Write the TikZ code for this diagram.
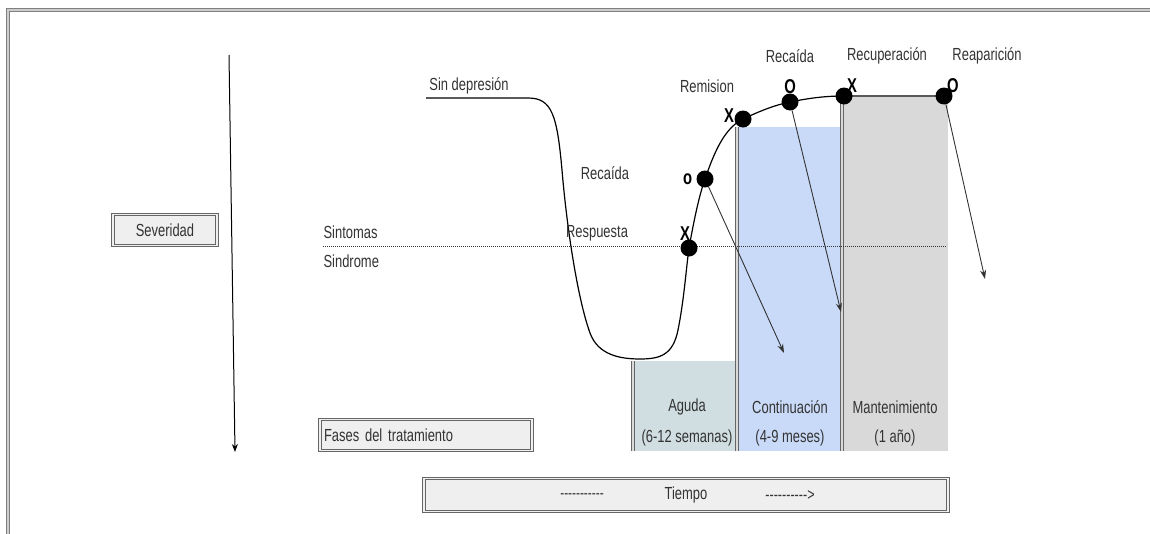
\documentclass[tikz,border=0pt]{standalone}
\usepackage{fontspec}
\setmainfont{Liberation Sans}[FakeStretch=0.74]
\usetikzlibrary{arrows.meta}

\definecolor{txtgray}{HTML}{333333}
\definecolor{boxline}{HTML}{666666}
\definecolor{boxfill}{HTML}{EFEFEF}
\definecolor{agudafill}{HTML}{D0DEE1}
\definecolor{contfill}{HTML}{C9DAF8}
\definecolor{mantfill}{HTML}{D9D9D9}

\begin{document}
\begin{tikzpicture}[x=1pt, y=-1pt,
	every node/.style={font=\fontsize{17.5}{20}\selectfont, text=txtgray},
	dot/.style={circle, fill=black, inner sep=0pt, minimum size=17pt},
	xo/.style={font=\fontsize{20}{22}\selectfont\bfseries, text=black, inner sep=1pt},
	dblbox/.style={draw=boxline, double=boxfill, double distance=1.4pt, line width=1pt, fill=boxfill, minimum height=31pt, inner sep=0pt},
	phase/.style={draw=none, anchor=north west, inner sep=0pt},
	phaseedge/.style={draw=boxline, double=gray!30, double distance=1.4pt, line width=1pt},
	thinarrow/.style={draw=txtgray, line width=0.9pt, -{Stealth[length=9pt,width=6pt]}}]
	\useasboundingbox (0,0) rectangle (1150,533);
	% frame
	\draw[draw=gray, double=gray!40, double distance=1.4pt, line width=1.1pt] (8,540) -- (8,10) -- (1160,10);

	% severity axis
	\coordinate (sevtop) at (229,55);
	\coordinate (sevbot) at (235,452);
	\draw[line width=1pt, -{Stealth[length=8pt,width=6pt]}] (sevtop) -- (sevbot);
	\node[dblbox, minimum width=104pt] (sev) at (165,230) {Severidad};

	% phases of treatment
	\node[phase, fill=agudafill, minimum width=104pt, minimum height=90pt] (aguda) at (633,361) {};
	\node[phase, fill=contfill, minimum width=105pt, minimum height=324pt] (cont) at (737,127) {};
	\node[phase, fill=mantfill, minimum width=106pt, minimum height=354pt] (mant) at (842,97) {};
	\draw[phaseedge] (aguda.north west) -- (aguda.south west);
	\draw[phaseedge] (cont.north west) -- (cont.south west);
	\draw[phaseedge] (mant.north west) -- (mant.south west);
	\node (agudaA) at (687,407) {Aguda};
	\node (agudaB) at (687,438) {(6-12 semanas)};
	\node (contA) at (790,407) {Continuación};
	\node (contB) at (790,438) {(4-9 meses)};
	\node (mantA) at (895,407) {Mantenimiento};
	\node (mantB) at (895,438) {(1 año)};

	% threshold
	\coordinate (umbralA) at (323,246);
	\coordinate (umbralB) at (947,246);
	\draw[densely dotted, line width=1pt, draw=txtgray] (umbralA) -- (umbralB);
	\node[anchor=west] (sint) at (320,232) {Sintomas};
	\node[anchor=west] (sind) at (320,261) {Sindrome};

	% course of the episode
	\node[dot, label={[xo, label distance=-2pt, xshift=-4pt]above:X}] (resp) at (689,248) {};
	\node[dot, label={[xo, label distance=3pt]left:o}] (rec1) at (705,179) {};
	\node[dot, label={[xo, label distance=-1pt, yshift=3pt]left:X}] (remi) at (743,119) {};
	\node[dot, label={[xo, label distance=-2pt]above:O}] (rec2) at (790,102) {};
	\node[dot, label={[xo, label distance=-6pt]above right:X}] (recu) at (844,96) {};
	\node[dot, label={[xo, label distance=-6pt]above right:O}] (reap) at (944,96) {};
	\coordinate (sinA) at (426,98);
	\coordinate (sinB) at (528,98);
	\draw[line width=1.2pt] (sinA) -- (sinB)
		.. controls (552,98) and (557,115) .. (562,170)
		.. controls (567,230) and (578,300) .. (590,333)
		.. controls (598,355) and (620,359) .. (640,359)
		.. controls (660,359) and (673,355) .. (678,330)
		.. controls (684,300) and (686,270) .. (resp.center)
		.. controls (694,220) and (699,196) .. (rec1.center)
		.. controls (715,150) and (725,128) .. (remi.center)
		.. controls (760,111) and (775,105) .. (rec2.center)
		.. controls (810,98) and (825,96) .. (recu.center)
		-- (reap.center);

	\node (sindep) at (469,86) {Sin depresión};
	\node (respT) at (597,233) {Respuesta};
	\node (rec1T) at (605,173) {Recaída};
	\node (remiT) at (707,86) {Remision};
	\node (rec2T) at (790,56) {Recaída};
	\node (recuT) at (887,56) {Recuperación};
	\node (reapT) at (987,56) {Reaparición};

	% consequences
	\coordinate (flA) at (784,353);
	\coordinate (flB) at (841,312);
	\coordinate (flC) at (985,279);
	\draw[thinarrow] (rec1) -- (flA);
	\draw[thinarrow] (rec2) -- (flB);
	\draw[thinarrow] (reap) -- (flC);

	% bottom boxes
	\node[dblbox, minimum width=212pt, text width=204pt, align=left] (fases) at (426,435) {Fases del tratamiento};
	\node[dblbox, minimum width=524pt, minimum height=33pt] (tiempo) at (686,495) {};
	\node[font=\fontsize{16}{18}\selectfont] (tiempoA) at (582,496) {-{}-{}-{}-{}-{}-{}-{}-{}-{}-{}-};
	\node (tiempoB) at (686,495) {Tiempo};
	\node[font=\fontsize{17}{18}\selectfont] (tiempoC) at (790,496) {-{}-{}-{}-{}-{}-{}-{}-{}-{}->};
\end{tikzpicture}
\end{document}
